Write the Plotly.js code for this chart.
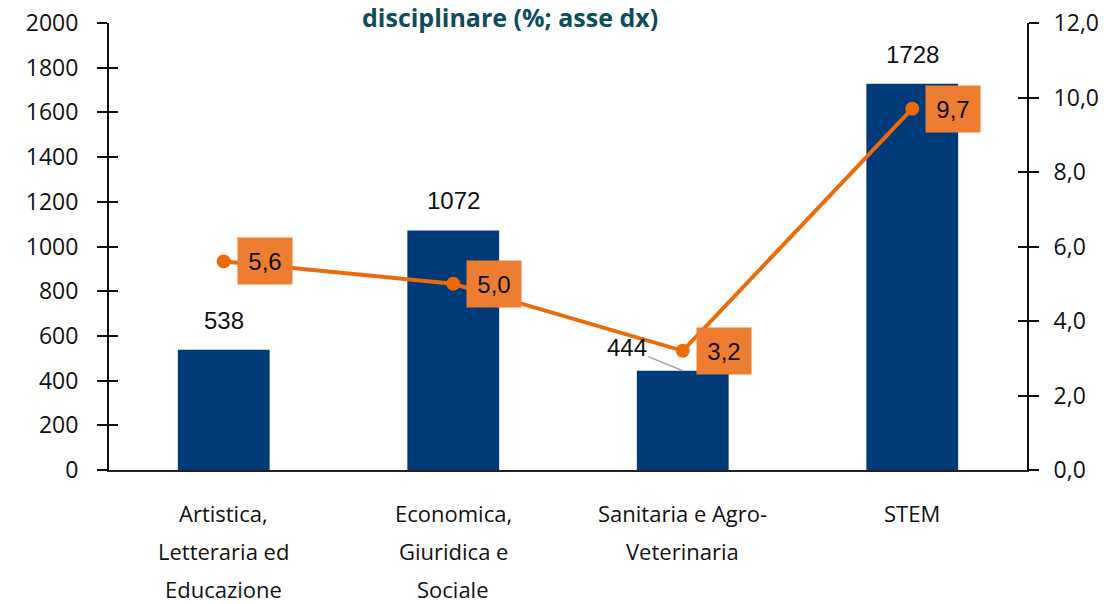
<!DOCTYPE html>
<html>
<head>
<meta charset="utf-8">
<script src="https://cdn.plot.ly/plotly-3.0.1.min.js"></script>
<style>html,body{margin:0;padding:0;background:#fff;}#chart{width:1104px;height:604px;}</style>
</head>
<body>
<div id="chart"></div>
<script>
// ---- data ----
var categories = ['Artistica, Letteraria ed Educazione', 'Economica, Giuridica e Sociale', 'Sanitaria e Agro-Veterinaria', 'STEM'];
var categoryLines = [
  ['Artistica,', 'Letteraria ed', 'Educazione'],
  ['Economica,', 'Giuridica e', 'Sociale'],
  ['Sanitaria e Agro-', 'Veterinaria'],
  ['STEM']
];
var barValues = [538, 1072, 444, 1728];
var lineValues = [5.6, 5.0, 3.2, 9.7];
var titleText = 'disciplinare (%; asse dx)';

// ---- styles ----
var axisFont = {family: 'Open Sans, sans-serif', size: 23, color: '#111'};
var catFont = {family: 'Open Sans, sans-serif', size: 22, color: '#111'};
var labelFont = {family: 'Liberation Sans, Arial, sans-serif', size: 24, color: '#111'};
var barColor = '#003A78';
var lineColor = '#EB6A0A';
var boxColor = '#ED7D31';

function fmt1(v) { return v.toFixed(1).replace('.', ','); }

var traces = [
  {type: 'bar', x: categories, y: barValues, width: 0.4, marker: {color: barColor}, hoverinfo: 'skip', yaxis: 'y'},
  {type: 'scatter', mode: 'lines+markers', x: categories, y: lineValues, yaxis: 'y2',
   line: {color: lineColor, width: 4}, marker: {color: lineColor, size: 14}, hoverinfo: 'skip'},
  {type: 'scatter', mode: 'markers', x: categories, y: barValues, yaxis: 'y3', marker: {opacity: 0}, hoverinfo: 'skip'},
  {type: 'scatter', mode: 'markers', x: categories, y: lineValues, yaxis: 'y4', marker: {opacity: 0}, hoverinfo: 'skip'}
];

var annotations = [];
// bar value labels
barValues.forEach(function (v, i) {
  if (i === 2) {
    annotations.push({x: categories[i], y: v, xref: 'x', yref: 'y', text: String(v), font: labelFont,
      showarrow: true, arrowhead: 0, arrowwidth: 1.5, arrowcolor: '#A6A6A6', ax: -56, ay: -23, standoff: 0});
  } else {
    annotations.push({x: categories[i], y: v, xref: 'x', yref: 'y', text: String(v), font: labelFont,
      showarrow: false, yanchor: 'bottom', yshift: 14});
  }
});
// line value labels
lineValues.forEach(function (v, i) {
  annotations.push({x: categories[i], y: v, xref: 'x', yref: 'y2', text: fmt1(v), font: labelFont,
    showarrow: false, xshift: 41, bgcolor: boxColor, borderpad: 8, width: 38, height: 30});
});
// category labels
categoryLines.forEach(function (lines, i) {
  lines.forEach(function (t, j) {
    annotations.push({x: categories[i], y: 0, xref: 'x', yref: 'paper', text: t, font: catFont,
      showarrow: false, yanchor: 'top', yshift: -26 - 38 * j});
  });
});
// title (visible last line)
annotations.push({x: 0.437, y: 1.0, xref: 'paper', yref: 'paper', text: '<b>' + titleText + '</b>',
  font: {family: 'Open Sans, sans-serif', size: 25, color: '#0B4D5A'}, showarrow: false, yanchor: 'middle', yshift: 6});

var layout = {
  width: 1104, height: 604,
  margin: {l: 109, r: 77, t: 23, b: 134},
  paper_bgcolor: '#fff', plot_bgcolor: '#fff',
  showlegend: false,
  separators: ',.',
  bargap: 0.6,
  xaxis: {showticklabels: false, ticks: '', showline: true, linecolor: '#222', linewidth: 2, showgrid: false, zeroline: false},
  yaxis: {range: [0, 2000], dtick: 200, tick0: 0, ticks: 'outside', ticklen: 10, tickwidth: 2, tickcolor: '#111',
    showline: true, linecolor: '#111', linewidth: 2, showgrid: false, zeroline: false, tickfont: axisFont, ticklabelstandoff: 14},
  yaxis2: {range: [0, 12], dtick: 2, tick0: 0, overlaying: 'y', side: 'right', tickformat: '.1f', ticks: 'outside', ticklen: 10,
    tickwidth: 2, tickcolor: '#111', showline: true, linecolor: '#111', linewidth: 2, showgrid: false, zeroline: false,
    tickfont: axisFont, ticklabelstandoff: 10},
  yaxis3: {range: [0, 2000], dtick: 200, tick0: 0, overlaying: 'y', side: 'left', ticks: 'inside', ticklen: 9, tickwidth: 2,
    tickcolor: '#111', showticklabels: false, showline: false, showgrid: false, zeroline: false},
  yaxis4: {range: [0, 12], dtick: 2, tick0: 0, overlaying: 'y', side: 'right', ticks: 'inside', ticklen: 9, tickwidth: 2,
    tickcolor: '#111', showticklabels: false, showline: false, showgrid: false, zeroline: false},
  annotations: annotations
};

Plotly.newPlot('chart', traces, layout, {displayModeBar: false, staticPlot: true});
</script>
</body>
</html>
